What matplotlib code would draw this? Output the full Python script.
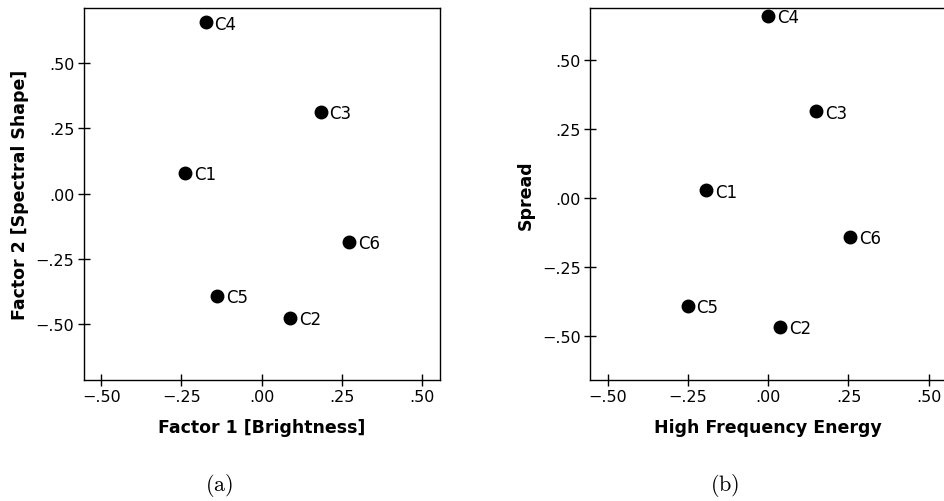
import matplotlib.pyplot as plt
import numpy as np

plt.rcParams['mathtext.fontset'] = 'cm'

labels = ['C1', 'C2', 'C3', 'C4', 'C5', 'C6']

# (a) factor scores
f1_brightness = [-0.238, 0.088, 0.183, -0.175, -0.140, 0.271]
f2_spectral = [0.079, -0.474, 0.313, 0.656, -0.390, -0.185]

# (b) descriptor values
hf_energy = [-0.193, 0.038, 0.150, 0.000, -0.251, 0.255]
spread = [0.027, -0.467, 0.314, 0.659, -0.391, -0.140]

ticks = [-0.50, -0.25, 0.00, 0.25, 0.50]
tick_labels = ['\u2212.50', '\u2212.25', '.00', '.25', '.50']


def scatter_panel(ax, xs, ys, xlabel, ylabel, ylim):
    ax.plot(xs, ys, 'o', color='black', markersize=9, linestyle='none')
    for lab, x, y in zip(labels, xs, ys):
        ax.annotate(lab, (x, y), xytext=(6.5, -1), textcoords='offset points',
                    va='center', ha='left', fontsize=12)
    ax.set_xlim(-0.555, 0.555)
    ax.set_ylim(*ylim)
    ax.set_xticks(ticks)
    ax.set_xticklabels(tick_labels)
    ax.set_yticks(ticks)
    ax.set_yticklabels(tick_labels)
    ax.tick_params(direction='inout', length=9, width=1, labelsize=11.5, pad=2)
    for s in ax.spines.values():
        s.set_linewidth(1)
    ax.set_xlabel(xlabel, fontsize=12.5, fontweight='bold', labelpad=10)
    ax.set_ylabel(ylabel, fontsize=12.5, fontweight='bold', labelpad=5)


fig = plt.figure(figsize=(9.45, 5.02), dpi=100)
ax1 = fig.add_axes([0.0884, 0.241, 0.3772, 0.742])
ax2 = fig.add_axes([0.6243, 0.241, 0.3772, 0.742])

scatter_panel(ax1, f1_brightness, f2_spectral,
              'Factor 1 [Brightness]', 'Factor 2 [Spectral Shape]', (-0.713, 0.712))
scatter_panel(ax2, hf_energy, spread,
              'High Frequency Energy', 'Spread', (-0.660, 0.690))

fig.text(219 / 945, 1 - 486 / 502, r'$\mathrm{(a)}$', ha='center', va='center', fontsize=16)
fig.text(725 / 945, 1 - 486 / 502, r'$\mathrm{(b)}$', ha='center', va='center', fontsize=16)

fig.savefig('out.png', dpi=100)
